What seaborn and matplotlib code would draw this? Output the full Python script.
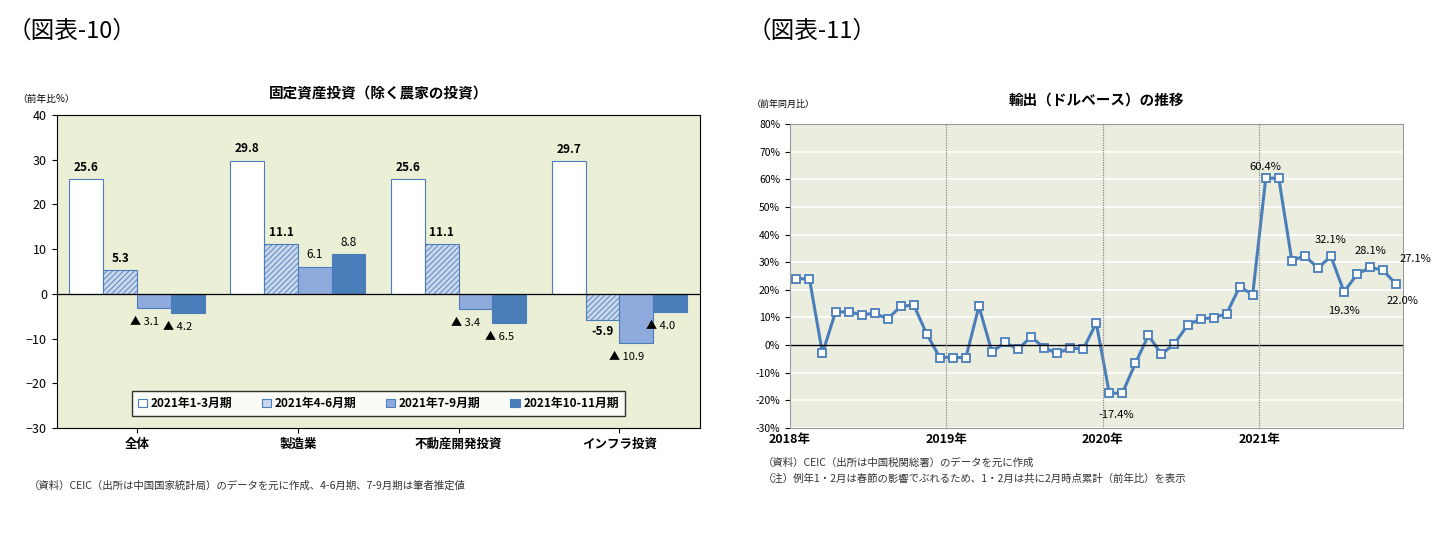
import matplotlib
matplotlib.use("Agg")
import matplotlib.pyplot as plt
import seaborn as sns
import numpy as np
import pandas as pd

plt.rcParams["font.family"] = ["Noto Sans CJK JP", "DejaVu Sans"]
plt.rcParams["hatch.color"] = "#7f97c0"
plt.rcParams["hatch.linewidth"] = 0.6

# Left chart data
categories = ["全体", "製造業", "不動産開発投資", "インフラ投資"]
periods = ["2021年1-3月期", "2021年4-6月期", "2021年7-9月期", "2021年10-11月期"]
q1 = [25.6, 29.8, 25.6, 29.7]
q2 = [5.3, 11.1, 11.1, -5.9]
q3 = [-3.1, 6.1, -3.4, -10.9]
q4 = [-4.2, 8.8, -6.5, -4.0]

# Right chart data (monthly, 2018/1 - 2021/11)
export_yoy = [24, 24, -3, 12, 12, 11, 11.5, 9.5, 14, 14.5, 4, -4.5,
              -4.5, -4.5, 14, -2.5, 1, -1.5, 3, -1, -3, -1, -1.5, 8,
              -17.4, -17.4, -6.6, 3.5, -3.3, 0.5, 7.2, 9.5, 9.9, 11.4, 21.1, 18.3,
              60.4, 60.4, 30.6, 32.3, 27.9, 32.1, 19.3, 25.6, 28.1, 27.1, 22.0]
year_labels = ["2018年", "2019年", "2020年", "2021年"]

fig = plt.figure(figsize=(14.52, 5.37), dpi=100)
fig.text(0.005, 0.93, "（図表-10）", fontsize=17)
fig.text(0.515, 0.93, "（図表-11）", fontsize=17)

# ---------- left ----------
ax = fig.add_axes([0.039, 0.203, 0.443, 0.583])
ax.set_facecolor("#ebefd6")
df = pd.DataFrame({"cat": np.repeat(categories, 4),
                   "period": periods * 4,
                   "val": [v for i in range(4) for v in (q1[i], q2[i], q3[i], q4[i])]})
colors = ["#ffffff", "#c9d6ec", "#8faadc", "#4a7ebb"]
sns.barplot(data=df, x="cat", y="val", hue="period", palette=colors, ax=ax,
            width=0.84, edgecolor="#4a7ebb", linewidth=0.8, saturation=1)
for b in ax.containers[1]:
    b.set_hatch("//////")
ax.set_ylim(-30, 40)
ax.set_yticks(range(-30, 41, 10))
ax.axhline(0, color="black", lw=0.9)
ax.set_xlabel("")
ax.set_ylabel("")
ax.tick_params(labelsize=9)
for lbl in ax.get_xticklabels():
    lbl.set_fontweight("bold")
for ci, cont in enumerate(ax.containers):
    for b in cont:
        v = b.get_height()
        x = b.get_x() + b.get_width() / 2
        if v >= 0:
            ax.text(x, v + 1.2, f"{v:.1f}", ha="center", va="bottom", fontsize=8.5,
                    fontweight="bold" if ci < 2 else "normal")
        elif ci == 1:
            ax.text(x, v - 1.0, f"{v:.1f}", ha="center", va="top", fontsize=8.5, fontweight="bold")
        else:
            ax.text(x - 0.06, v - 3.2, f"▲ {abs(v):.1f}", ha="center", va="center", fontsize=8)
leg = ax.legend(loc="lower center", bbox_to_anchor=(0.5, 0.02), ncol=4, fontsize=8.5,
                frameon=True, fancybox=False, edgecolor="black", handlelength=0.8,
                columnspacing=2.5, handletextpad=0.3, borderpad=0.5)
for t in leg.get_texts():
    t.set_fontweight("bold")
ax.set_title("固定資産投資（除く農家の投資）", fontsize=10.5, fontweight="bold", pad=12)
fig.text(0.012, 0.81, "（前年比%）", fontsize=7)
fig.text(0.02, 0.09, "（資料）CEIC（出所は中国国家統計局）のデータを元に作成、4-6月期、7-9月期は筆者推定値", fontsize=7.5, color="#333333")

# ---------- right ----------
ax2 = fig.add_axes([0.544, 0.203, 0.422, 0.566])
ax2.set_facecolor("#ebeedf")
x = np.arange(len(export_yoy))
sns.lineplot(x=x, y=export_yoy, ax=ax2, color="#4a7ebb", lw=2.2, marker="s",
             markersize=6, markerfacecolor="white", markeredgecolor="#4a7ebb", markeredgewidth=1.3)
ax2.set_xlim(-0.5, 46.5)
ax2.set_ylim(-30, 80)
ax2.set_yticks(range(-30, 81, 10))
ax2.set_yticklabels([f"{v}%" for v in range(-30, 81, 10)], fontsize=7.5)
ax2.yaxis.grid(True, color="white", lw=1.2)
ax2.set_axisbelow(True)
ax2.axhline(0, color="black", lw=1)
for p in [11.5, 23.5, 35.5]:
    ax2.axvline(p, color="#888888", lw=0.9, ls=(0, (1, 1)))
ax2.set_xticks([-0.5, 11.5, 23.5, 35.5])
ax2.set_xticklabels(year_labels, fontsize=9, fontweight="bold")
ax2.tick_params(axis="x", length=0)
for s in ax2.spines.values():
    s.set_color("#999999")
ann = [(24, "-17.4%", 0.5, -8), (36, "60.4%", 0, 4), (41, "32.1%", 0, 6), (42, "19.3%", 0, -7),
       (44, "28.1%", 0, 6), (45, "27.1%", 2.5, 4), (46, "22.0%", 0.5, -6)]
for i, t, dx, dy in ann:
    ax2.text(i + dx, export_yoy[i] + dy, t, ha="center", va="center", fontsize=8)
ax2.set_title("輸出（ドルベース）の推移", fontsize=10.5, fontweight="bold", pad=14)
fig.text(0.518, 0.80, "（前年同月比）", fontsize=6.5)
fig.text(0.525, 0.132, "（資料）CEIC（出所は中国税関総署）のデータを元に作成", fontsize=7.5, color="#333333")
fig.text(0.525, 0.103, "（注）例年1・2月は春節の影響でぶれるため、1・2月は共に2月時点累計（前年比）を表示", fontsize=7.5, color="#333333")

fig.savefig("out.png", dpi=100)
